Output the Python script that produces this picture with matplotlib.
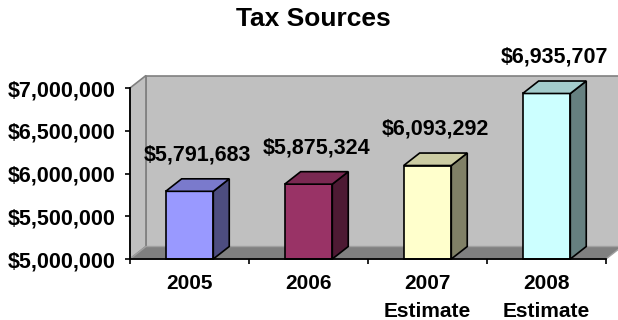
import matplotlib.pyplot as plt
from matplotlib.patches import Polygon
from matplotlib.colors import to_rgb
import numpy as np

years = ['2005', '2006', '2007\nEstimate', '2008\nEstimate']
taxes = [5791683, 5875324, 6093292, 6935707]
colors = ['#9999FF', '#993366', '#FFFFCC', '#CCFFFF']
yticks = np.arange(5000000, 7000001, 500000)

plt.rcParams['font.family'] = ['Liberation Sans', 'DejaVu Sans']
plt.rcParams['font.weight'] = 'bold'

fig = plt.figure(figsize=(6.18, 3.2), dpi=100)
ax = fig.add_axes([130/618, 61/320, 476/618, 171/320])

ymin, ymax = 5000000, 7000000
xmin, xmax = -0.5, len(years) - 0.5
ax.set_xlim(xmin, xmax)
ax.set_ylim(ymin, ymax)
ax.patch.set_visible(False)

# depth of the fake 3d box, in data units
dx = 0.134
dy = 146000

def shade(c, f):
    r, g, b = to_rgb(c)
    return (r * f, g * f, b * f)

# walls and floor
wall = Polygon([(xmin + dx, ymin + dy), (xmax + dx, ymin + dy),
                (xmax + dx, ymax + dy), (xmin + dx, ymax + dy)],
               closed=True, fc='#C0C0C0', ec='#808080', lw=1.2,
               clip_on=False, zorder=0.5)
side = Polygon([(xmin, ymin), (xmin + dx, ymin + dy),
                (xmin + dx, ymax + dy), (xmin, ymax)],
               closed=True, fc='#C0C0C0', ec='#808080', lw=1.2,
               clip_on=False, zorder=0.6)
floor = Polygon([(xmin, ymin), (xmax, ymin),
                 (xmax + dx, ymin + dy), (xmin + dx, ymin + dy)],
                closed=True, fc='#808080', ec='#A0A0A0', lw=1,
                clip_on=False, zorder=0.7)
for p in (wall, side, floor):
    ax.add_patch(p)

x = np.arange(len(years))
w = 0.2
ax.bar(x, [v - ymin for v in taxes], bottom=ymin, width=2 * w,
       color=colors, edgecolor='black', lw=1.2, zorder=3, clip_on=False)

for xi, v, c in zip(x, taxes, colors):
    top = Polygon([(xi - w, v), (xi + w, v), (xi + w + dx, v + dy),
                   (xi - w + dx, v + dy)],
                  closed=True, fc=shade(c, 0.8), ec='black', lw=1.2,
                  clip_on=False, zorder=3)
    right = Polygon([(xi + w, ymin), (xi + w + dx, ymin + dy),
                     (xi + w + dx, v + dy), (xi + w, v)],
                    closed=True, fc=shade(c, 0.5), ec='black', lw=1.2,
                    clip_on=False, zorder=3)
    ax.add_patch(right)
    ax.add_patch(top)
    ax.annotate(f'${v:,}', (xi + dx / 2, v + dy), xytext=(0, 17),
                textcoords='offset points', ha='center', va='center',
                fontsize=15.5, fontweight='bold', annotation_clip=False)

for s in ['top', 'right']:
    ax.spines[s].set_visible(False)
for s in ['left', 'bottom']:
    ax.spines[s].set_linewidth(1.3)
    ax.spines[s].set_zorder(4)

ax.set_yticks(yticks)
ax.set_yticklabels([f'${t:,}' for t in yticks], fontsize=15.5, fontweight='bold')
ax.tick_params(axis='y', length=3.5, width=1.2, pad=7)

ax.set_xticks(np.arange(xmin, xmax + 0.01, 1.0))
ax.set_xticklabels([])
ax.tick_params(axis='x', which='major', length=3.5, width=1.2)
ax.set_xticks(x, minor=True)
ax.set_xticklabels(years, minor=True, fontsize=15, fontweight='bold',
                   linespacing=1.6, va='top')
ax.tick_params(axis='x', which='minor', length=0, pad=11)

fig.text(313/618, 1 - 19/320, 'Tax Sources', ha='center', va='center',
         fontsize=19, fontweight='bold')

fig.savefig('out.png', dpi=100)
